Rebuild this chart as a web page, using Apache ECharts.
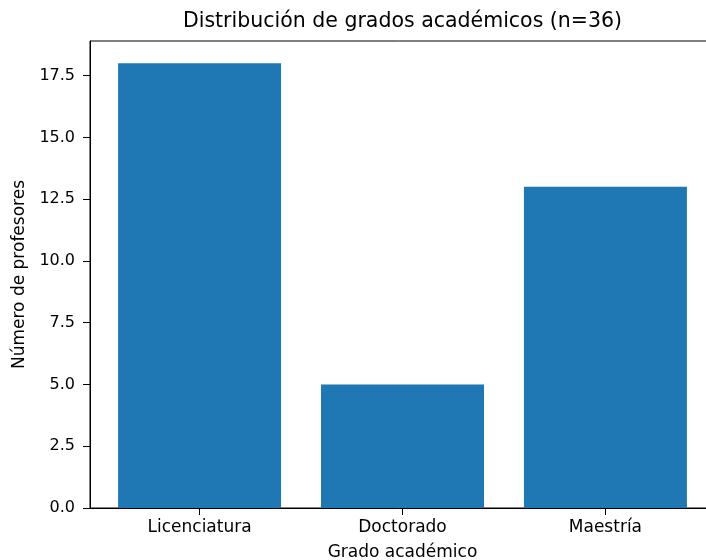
<!DOCTYPE html>
<html><head><meta charset="utf-8">
<script src="https://cdn.jsdelivr.net/npm/echarts@6/dist/echarts.min.js"></script>
<style>html,body{margin:0;padding:0;background:#fff}#c{width:706px;height:560px}</style>
</head><body><div id="c"></div>
<script>
const categories = ["Licenciatura", "Doctorado", "Maestría"];
const values = [18, 5, 13];
const yTicks = [0, 2.5, 5, 7.5, 10, 12.5, 15, 17.5];
const titleText = "Distribución de grados académicos (n=36)";
const xName = "Grado académico";
const yName = "Número de profesores";

const FONT = "DejaVu Sans";
const chart = echarts.init(document.getElementById('c'), null, {renderer: 'canvas'});
const idx = categories.map((_, i) => i);
chart.setOption({
  animation: false,
  backgroundColor: '#fff',
  graphic: [{
    type: 'text', x: 402.5, y: 22,
    style: { text: titleText, font: '20.5px "DejaVu Sans"', fill: '#000', textAlign: 'center', textVerticalAlign: 'middle' }
  }],
  grid: { left: 90, top: 41, width: 625, height: 467, show: true, borderColor: '#000', borderWidth: 1,
    backgroundColor: 'transparent', containLabel: false, outerBoundsMode: 'none' },
  xAxis: {
    type: 'value', min: -0.54, max: 2.54,
    name: xName, nameLocation: 'middle', nameGap: 36,
    nameTextStyle: { fontFamily: FONT, fontSize: 17, color: '#000' },
    splitLine: { show: false },
    axisLine: { show: true, onZero: false, lineStyle: { color: '#000', width: 1 } },
    axisTick: { show: true, length: 7, lineStyle: { color: '#000' }, customValues: idx },
    axisLabel: { customValues: idx, fontFamily: FONT, fontSize: 17, color: '#000', margin: 11,
      formatter: v => categories[Math.round(v)] }
  },
  yAxis: {
    type: 'value', min: 0, max: 18.9,
    name: yName, nameLocation: 'middle', nameGap: 62,
    nameTextStyle: { fontFamily: FONT, fontSize: 17, color: '#000' },
    splitLine: { show: false },
    axisLine: { show: true, onZero: false, lineStyle: { color: '#000', width: 1 } },
    axisTick: { show: true, length: 7, lineStyle: { color: '#000' }, customValues: yTicks },
    axisLabel: { customValues: yTicks, fontFamily: FONT, fontSize: 16, color: '#000', margin: 15,
      formatter: v => v.toFixed(1) }
  },
  series: [{
    type: 'bar',
    data: values.map((v, i) => [i, v]),
    barWidth: 163,
    itemStyle: { color: '#1f77b4' }
  }]
});
</script></body></html>
